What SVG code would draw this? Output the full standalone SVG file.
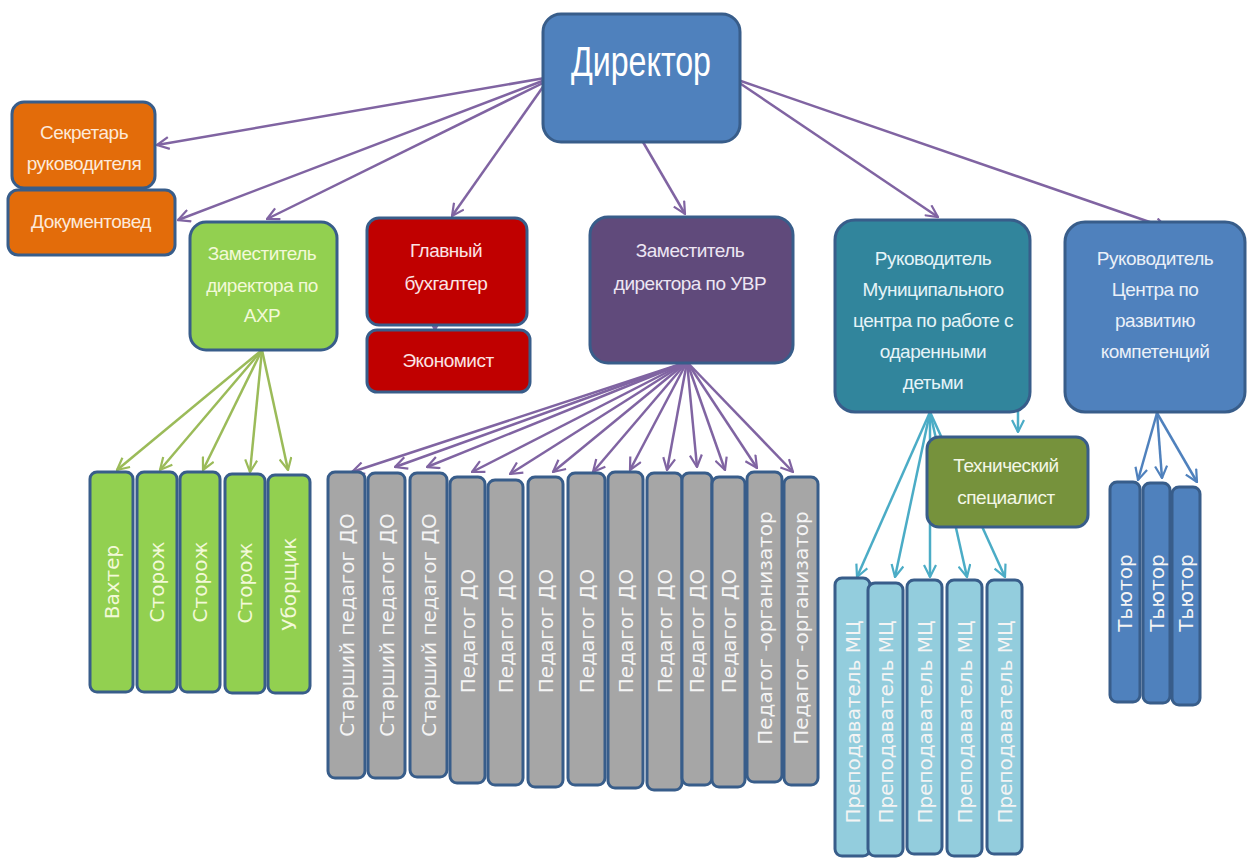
<svg xmlns="http://www.w3.org/2000/svg" width="1249" height="859" viewBox="0 0 1249 859">
<style>
.box{stroke:#385D8A;stroke-width:3}
.t{font-family:"Liberation Sans",Arial,sans-serif;font-size:19px;letter-spacing:-0.5px;text-anchor:middle;fill:#FFFFFF}
.v{font-family:"DejaVu Sans",Verdana,sans-serif;font-size:20px;text-anchor:middle;dominant-baseline:central;fill:#F4F4F4}
.cp{fill:none;stroke:#8064A2;stroke-width:2.5;marker-end:url(#ap)}
.cg{fill:none;stroke:#9BBB59;stroke-width:2.5;marker-end:url(#ag)}
.ct{fill:none;stroke:#4BACC6;stroke-width:2.5;marker-end:url(#at)}
.cb{fill:none;stroke:#4F81BD;stroke-width:2.5;marker-end:url(#ab)}
</style>
<defs>
<marker id="ap" viewBox="0 0 14 14" refX="13" refY="7" markerWidth="14" markerHeight="14" markerUnits="userSpaceOnUse" orient="auto"><path d="M1,1 L13,7 L1,13" fill="none" stroke="#8064A2" stroke-width="2.2"/></marker>
<marker id="ag" viewBox="0 0 14 14" refX="13" refY="7" markerWidth="14" markerHeight="14" markerUnits="userSpaceOnUse" orient="auto"><path d="M1,1 L13,7 L1,13" fill="none" stroke="#9BBB59" stroke-width="2.2"/></marker>
<marker id="at" viewBox="0 0 14 14" refX="13" refY="7" markerWidth="14" markerHeight="14" markerUnits="userSpaceOnUse" orient="auto"><path d="M1,1 L13,7 L1,13" fill="none" stroke="#4BACC6" stroke-width="2.2"/></marker>
<marker id="ab" viewBox="0 0 14 14" refX="13" refY="7" markerWidth="14" markerHeight="14" markerUnits="userSpaceOnUse" orient="auto"><path d="M1,1 L13,7 L1,13" fill="none" stroke="#4F81BD" stroke-width="2.2"/></marker>
</defs>
<rect width="1249" height="859" fill="#FFFFFF"/>

<g id="connectors">
<path class="cp" d="M545,78 L157,145"/>
<path class="cp" d="M545,80 L178,220"/>
<path class="cp" d="M545,82 L267,219"/>
<path class="cp" d="M545,84 L452,216"/>
<path class="cp" d="M643,142 L685,214"/>
<path class="cp" d="M738,82 L938,217"/>
<path class="cp" d="M738,80 L1167,228"/>
<path class="cp" d="M435,303 L435,330"/>
<path class="cg" d="M262,350 L117,470"/>
<path class="cg" d="M262,350 L160,470"/>
<path class="cg" d="M262,350 L203,470"/>
<path class="cg" d="M262,350 L250,472"/>
<path class="cg" d="M262,350 L288,470"/>
<path class="cp" d="M687,362 L352,472"/>
<path class="cp" d="M687,362 L395,467"/>
<path class="cp" d="M687,362 L427,467"/>
<path class="cp" d="M687,362 L472,472"/>
<path class="cp" d="M687,362 L510,474"/>
<path class="cp" d="M687,362 L553,472"/>
<path class="cp" d="M687,362 L593,472"/>
<path class="cp" d="M687,362 L630,470"/>
<path class="cp" d="M687,362 L667,470"/>
<path class="cp" d="M687,362 L697,467"/>
<path class="cp" d="M687,362 L725,470"/>
<path class="cp" d="M687,362 L757,468"/>
<path class="cp" d="M687,362 L793,472"/>
<path class="ct" d="M930,412 L857,577"/>
<path class="ct" d="M930,412 L895,577"/>
<path class="ct" d="M930,412 L930,577"/>
<path class="ct" d="M930,412 L967,577"/>
<path class="ct" d="M930,412 L1005,577"/>
<path class="ct" d="M1018,395 L1018,432"/>
<path class="cb" d="M1157,413 L1138,480"/>
<path class="cb" d="M1157,413 L1162,478"/>
<path class="cb" d="M1157,413 L1197,482"/>
</g>

<g id="director"><rect class="box" x="543" y="14" width="197" height="128" rx="18" fill="#4F81BD"/><text x="641" y="76" font-family="Liberation Sans,Arial,sans-serif" font-size="42" text-anchor="middle" fill="#FFFFFF" textLength="140" lengthAdjust="spacingAndGlyphs">Директор</text></g>

<g id="secretary"><rect class="box" x="12" y="102" width="143" height="86" rx="12" fill="#E36C0A"/><text class="t" style="fill:#FDE9D9" x="84" y="139">Секретарь</text><text class="t" style="fill:#FDE9D9" x="84" y="170">руководителя</text></g>

<g id="docs"><rect class="box" x="8" y="190" width="167" height="65" rx="10" fill="#E36C0A"/><text class="t" style="fill:#FDE9D9" x="91" y="228">Документовед</text></g>

<g id="deputy-ahr"><rect class="box" x="190" y="222" width="147" height="128" rx="16" fill="#92D050"/><text class="t" style="fill:#F2F9D8" x="262" y="260">Заместитель</text><text class="t" style="fill:#F2F9D8" x="262" y="292">директора по</text><text class="t" style="fill:#F2F9D8" x="262" y="322">АХР</text></g>

<g id="accountant"><rect class="box" x="367" y="218" width="160" height="107" rx="12" fill="#C00000"/><text class="t" style="fill:#FBE4E4" x="446" y="257">Главный</text><text class="t" style="fill:#FBE4E4" x="446" y="290">бухгалтер</text></g>

<g id="economist"><rect class="box" x="367" y="330" width="163" height="62" rx="10" fill="#C00000"/><text class="t" style="fill:#FBE4E4" x="448" y="367">Экономист</text></g>

<g id="deputy-uvr"><rect class="box" x="590" y="217" width="203" height="146" rx="18" fill="#604A7B"/><text class="t" style="fill:#EDE6F3" x="690" y="257">Заместитель</text><text class="t" style="fill:#EDE6F3" x="690" y="290">директора по УВР</text></g>

<g id="head-mc"><rect class="box" x="835" y="220" width="195" height="192" rx="20" fill="#31859C"/><text class="t" style="fill:#E6F4F8" x="933" y="265">Руководитель</text><text class="t" style="fill:#E6F4F8" x="933" y="296">Муниципального</text><text class="t" style="fill:#E6F4F8" x="933" y="327">центра по работе с</text><text class="t" style="fill:#E6F4F8" x="933" y="358">одаренными</text><text class="t" style="fill:#E6F4F8" x="933" y="389">детьми</text></g>

<g id="head-center"><rect class="box" x="1065" y="222" width="180" height="190" rx="20" fill="#4F81BD"/><text class="t" style="fill:#EAF0F8" x="1155" y="265">Руководитель</text><text class="t" style="fill:#EAF0F8" x="1155" y="296">Центра по</text><text class="t" style="fill:#EAF0F8" x="1155" y="327">развитию</text><text class="t" style="fill:#EAF0F8" x="1155" y="358">компетенций</text></g>

<g id="tech"><rect class="box" x="927" y="437" width="161" height="90" rx="12" fill="#76923C"/><text class="t" style="fill:#F3F7E6" x="1006" y="472">Технический</text><text class="t" style="fill:#F3F7E6" x="1006" y="504">специалист</text></g>

<g id="ahr-staff">
<g id="s1"><rect class="box" x="90" y="472" width="43" height="220" rx="7" fill="#92D050"/><text class="v" style="fill:#F2F9D8" transform="translate(111.5,582) rotate(-90)">Вахтер</text></g>
<g id="s2"><rect class="box" x="137" y="472" width="40" height="220" rx="7" fill="#92D050"/><text class="v" style="fill:#F2F9D8" transform="translate(157,582) rotate(-90)">Сторож</text></g>
<g id="s3"><rect class="box" x="180" y="472" width="40" height="220" rx="7" fill="#92D050"/><text class="v" style="fill:#F2F9D8" transform="translate(200,582) rotate(-90)">Сторож</text></g>
<g id="s4"><rect class="box" x="225" y="474" width="40" height="219" rx="7" fill="#92D050"/><text class="v" style="fill:#F2F9D8" transform="translate(245,583) rotate(-90)">Сторож</text></g>
<g id="s5"><rect class="box" x="268" y="475" width="42" height="218" rx="7" fill="#92D050"/><text class="v" style="fill:#F2F9D8" transform="translate(289,584) rotate(-90)">Уборщик</text></g>
</g>

<g id="uvr-staff">
<g id="p1"><rect class="box" x="328" y="472" width="37" height="306" rx="7" fill="#A6A6A6"/><text class="v" transform="translate(346.5,625) rotate(-90)">Старший педагог ДО</text></g>
<g id="p2"><rect class="box" x="368" y="473" width="37" height="305" rx="7" fill="#A6A6A6"/><text class="v" transform="translate(386.5,625) rotate(-90)">Старший педагог ДО</text></g>
<g id="p3"><rect class="box" x="410" y="473" width="37" height="304" rx="7" fill="#A6A6A6"/><text class="v" transform="translate(428.5,625) rotate(-90)">Старший педагог ДО</text></g>
<g id="p4"><rect class="box" x="450" y="477" width="35" height="306" rx="7" fill="#A6A6A6"/><text class="v" transform="translate(467.5,631) rotate(-90)">Педагог ДО</text></g>
<g id="p5"><rect class="box" x="488" y="480" width="35" height="305" rx="7" fill="#A6A6A6"/><text class="v" transform="translate(505.5,631) rotate(-90)">Педагог ДО</text></g>
<g id="p6"><rect class="box" x="528" y="477" width="35" height="310" rx="7" fill="#A6A6A6"/><text class="v" transform="translate(545.5,631) rotate(-90)">Педагог ДО</text></g>
<g id="p7"><rect class="box" x="568" y="473" width="37" height="312" rx="7" fill="#A6A6A6"/><text class="v" transform="translate(586.5,631) rotate(-90)">Педагог ДО</text></g>
<g id="p8"><rect class="box" x="608" y="472" width="35" height="316" rx="7" fill="#A6A6A6"/><text class="v" transform="translate(625.5,631) rotate(-90)">Педагог ДО</text></g>
<g id="p9"><rect class="box" x="647" y="473" width="35" height="317" rx="7" fill="#A6A6A6"/><text class="v" transform="translate(664.5,631) rotate(-90)">Педагог ДО</text></g>
<g id="p10"><rect class="box" x="682" y="473" width="30" height="312" rx="7" fill="#A6A6A6"/><text class="v" transform="translate(697,631) rotate(-90)">Педагог ДО</text></g>
<g id="p11"><rect class="box" x="712" y="477" width="33" height="310" rx="7" fill="#A6A6A6"/><text class="v" transform="translate(728.5,631) rotate(-90)">Педагог ДО</text></g>
<g id="p12"><rect class="box" x="747" y="472" width="35" height="310" rx="7" fill="#A6A6A6"/><text class="v" transform="translate(764.5,628) rotate(-90)">Педагог -организатор</text></g>
<g id="p13"><rect class="box" x="784" y="477" width="34" height="308" rx="7" fill="#A6A6A6"/><text class="v" transform="translate(801,628) rotate(-90)">Педагог -организатор</text></g>
</g>

<g id="mc-staff">
<g id="m1"><rect class="box" x="835" y="578" width="35" height="278" rx="7" fill="#93CDDD"/><text class="v" transform="translate(852.5,722) rotate(-90)">Преподаватель МЦ</text></g>
<g id="m2"><rect class="box" x="868" y="583" width="35" height="273" rx="7" fill="#93CDDD"/><text class="v" transform="translate(885.5,722) rotate(-90)">Преподаватель МЦ</text></g>
<g id="m3"><rect class="box" x="907" y="580" width="35" height="274" rx="7" fill="#93CDDD"/><text class="v" transform="translate(924.5,722) rotate(-90)">Преподаватель МЦ</text></g>
<g id="m4"><rect class="box" x="947" y="580" width="35" height="276" rx="7" fill="#93CDDD"/><text class="v" transform="translate(964.5,722) rotate(-90)">Преподаватель МЦ</text></g>
<g id="m5"><rect class="box" x="987" y="580" width="35" height="274" rx="7" fill="#93CDDD"/><text class="v" transform="translate(1004.5,722) rotate(-90)">Преподаватель МЦ</text></g>
</g>

<g id="center-staff">
<g id="tu1"><rect class="box" x="1110" y="482" width="30" height="220" rx="7" fill="#4F81BD"/><text class="v" transform="translate(1125,593) rotate(-90)">Тьютор</text></g>
<g id="tu2"><rect class="box" x="1143" y="483" width="27" height="220" rx="7" fill="#4F81BD"/><text class="v" transform="translate(1156.5,593) rotate(-90)">Тьютор</text></g>
<g id="tu3"><rect class="box" x="1172" y="487" width="28" height="218" rx="7" fill="#4F81BD"/><text class="v" transform="translate(1186,593) rotate(-90)">Тьютор</text></g>
</g>
</svg>
